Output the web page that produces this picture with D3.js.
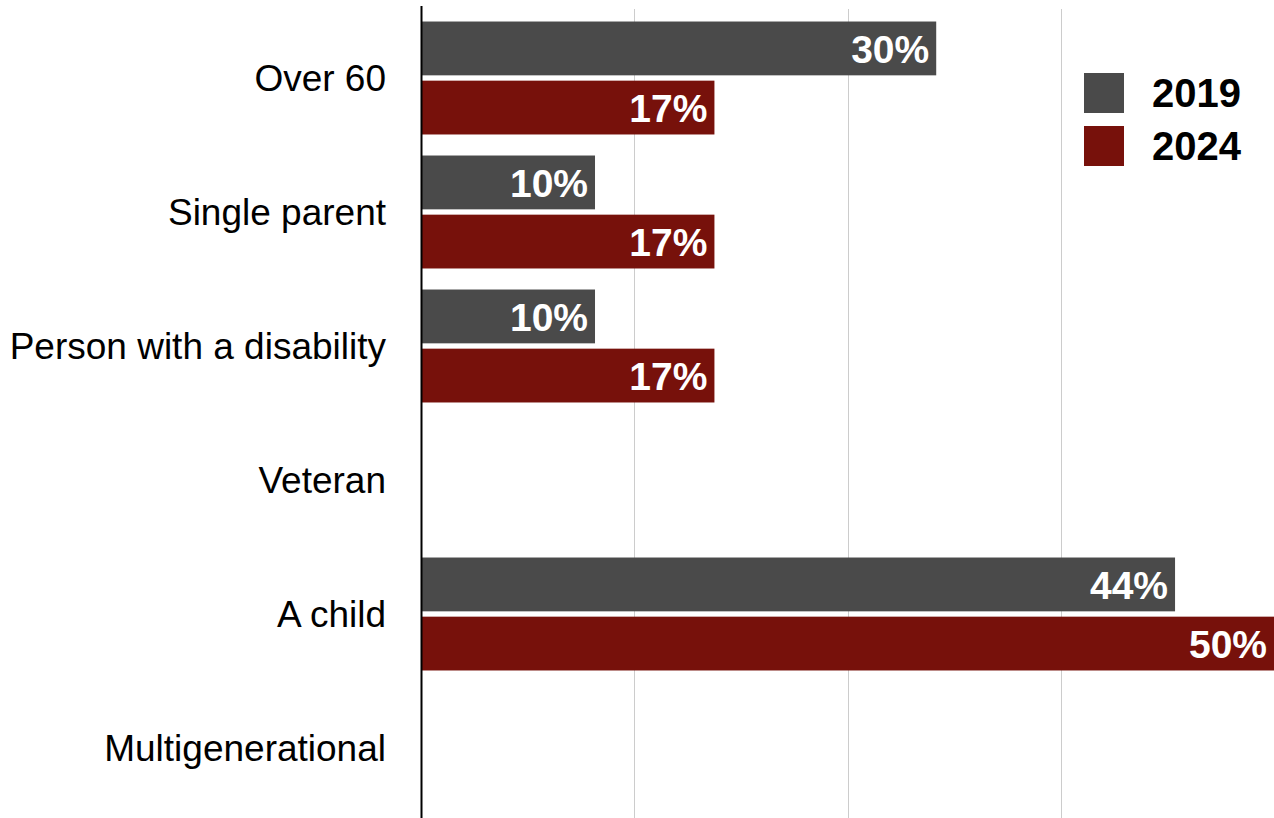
<!DOCTYPE html>
<html>
  <head>
    <meta charset="utf-8">
    <title>Household composition, 2019 vs 2024</title>
    <style>
      body {
        margin: 0;
        background: white;
      }
      .cat-label {
        font-family: "Liberation Sans", Arial, sans-serif;
        font-size: 37px;
        fill: black;
        text-anchor: end;
      }
      .bar-label {
        font-family: "Liberation Sans", Arial, sans-serif;
        font-size: 39px;
        font-weight: bold;
        fill: white;
        text-anchor: end;
      }
      .legend-label {
        font-family: "Liberation Sans", Arial, sans-serif;
        font-size: 40px;
        font-weight: bold;
        fill: black;
      }
    </style>
  </head>
  <body>
    <script src="https://d3js.org/d3.v7.min.js"></script>
    <script>
      const categories = ["Over 60", "Single parent", "Person with a disability", "Veteran", "A child", "Multigenerational"];
      const years = ["2019", "2024"];
      const values2019 = [30.2, 10.2, 10.2, 0, 44.2, 0];
      const values2024 = [17.2, 17.2, 17.2, 0, 50, 0];
      const gridTicks = [12.5, 25, 37.5];
      const colors = ["#4a4a4a", "#77110b"];

      const width = 1274;
      const height = 818;

      const rows = categories.map((c, i) => ({
        category: c,
        values: [
          { year: years[0], value: values2019[i] },
          { year: years[1], value: values2024[i] }
        ]
      }));

      const svg = d3.select("body")
        .append("svg")
        .attr("width", width)
        .attr("height", height);

      const x = d3.scaleLinear()
        .domain([0, 50])
        .range([421, 1274]);

      const y0 = d3.scaleBand()
        .domain(categories)
        .range([11, 815])
        .paddingInner(0.157)
        .paddingOuter(0.0785);

      const y1 = d3.scaleBand()
        .domain(years)
        .range([0, y0.bandwidth()])
        .paddingInner(0.09);

      const color = d3.scaleOrdinal()
        .domain(years)
        .range(colors);

      // gridlines
      svg.append("g")
        .selectAll("line")
        .data(gridTicks)
        .join("line")
        .attr("x1", d => Math.round(x(d)) + 0.5)
        .attr("x2", d => Math.round(x(d)) + 0.5)
        .attr("y1", 9)
        .attr("y2", height)
        .attr("stroke", "#cccccc")
        .attr("stroke-width", 1);

      const groups = svg.append("g")
        .selectAll("g")
        .data(rows)
        .join("g")
        .attr("transform", d => `translate(0,${y0(d.category)})`);

      groups.selectAll("rect")
        .data(d => d.values.filter(v => v.value > 0))
        .join("rect")
        .attr("x", x(0))
        .attr("y", d => y1(d.year))
        .attr("width", d => x(d.value) - x(0))
        .attr("height", y1.bandwidth())
        .attr("fill", d => color(d.year));

      groups.selectAll(".bar-label")
        .data(d => d.values.filter(v => v.value > 0))
        .join("text")
        .attr("class", "bar-label")
        .attr("x", d => x(d.value) - 7)
        .attr("y", d => y1(d.year) + y1.bandwidth() / 2)
        .attr("dy", "0.37em")
        .text(d => d3.format(".0f")(d.value) + "%");

      // category labels
      svg.append("g")
        .selectAll("text")
        .data(categories)
        .join("text")
        .attr("class", "cat-label")
        .attr("x", 386)
        .attr("y", d => y0(d) + y0.bandwidth() / 2)
        .attr("dy", "0.36em")
        .text(d => d);

      // axis line
      svg.append("line")
        .attr("x1", 421.5)
        .attr("x2", 421.5)
        .attr("y1", 6)
        .attr("y2", height)
        .attr("stroke", "black")
        .attr("stroke-width", 2);

      // legend
      const legend = svg.append("g")
        .selectAll("g")
        .data(years)
        .join("g")
        .attr("transform", (d, i) => `translate(1084,${73 + i * 53})`);

      legend.append("rect")
        .attr("width", 40)
        .attr("height", 40)
        .attr("fill", d => color(d));

      legend.append("text")
        .attr("class", "legend-label")
        .attr("x", 68)
        .attr("y", 34)
        .text(d => d);
    </script>
  </body>
</html>
